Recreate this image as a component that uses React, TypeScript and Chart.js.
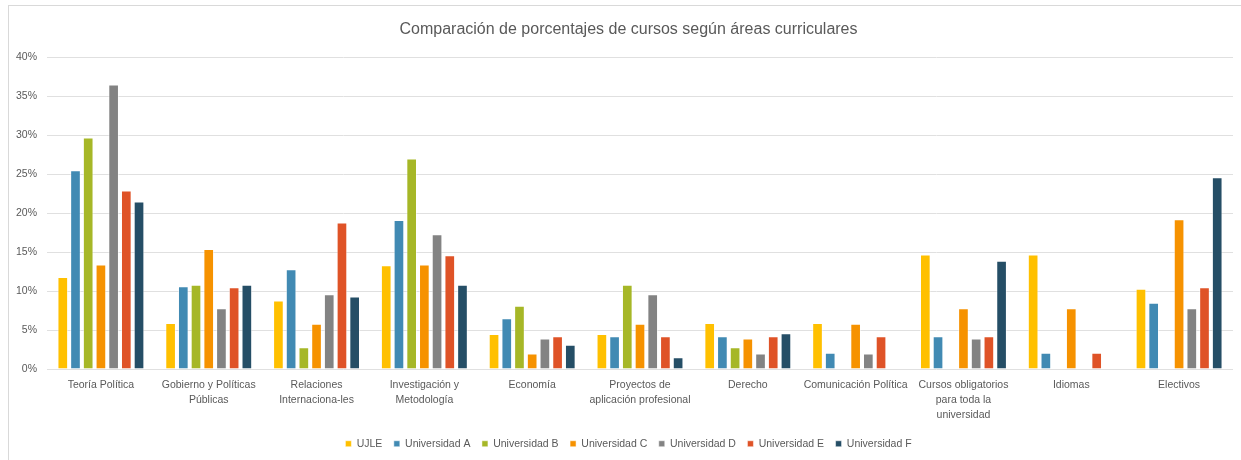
import React, { useEffect, useRef } from "react";
import { Chart, registerables } from "chart.js";

Chart.register(...registerables);

const categories: (string | string[])[] = [
  "Teoría Política",
  ["Gobierno y Políticas", "Públicas"],
  ["Relaciones", "Internaciona-les"],
  ["Investigación y", "Metodología"],
  "Economía",
  ["Proyectos de", "aplicación profesional"],
  "Derecho",
  "Comunicación Política",
  ["Cursos obligatorios", "para toda la", "universidad"],
  "Idiomas",
  "Electivos",
];

const seriesNames = [
  "UJLE",
  "Universidad A",
  "Universidad B",
  "Universidad C",
  "Universidad D",
  "Universidad E",
  "Universidad F",
];

const ujle = [11.8, 5.9, 8.8, 13.3, 4.5, 4.5, 5.9, 5.9, 14.7, 14.7, 10.3];
const uniA = [25.5, 10.6, 12.8, 19.1, 6.5, 4.2, 4.2, 2.1, 4.2, 2.1, 8.5];
const uniB = [29.7, 10.8, 2.8, 27.0, 8.1, 10.8, 2.8, null, null, null, null];
const uniC = [13.4, 15.4, 5.8, 13.4, 2.0, 5.8, 3.9, 5.8, 7.8, 7.8, 19.2];
const uniD = [36.5, 7.8, 9.6, 17.3, 3.9, 9.6, 2.0, 2.0, 3.9, null, 7.8];
const uniE = [22.9, 10.5, 18.8, 14.6, 4.2, 4.2, 4.2, 4.2, 4.2, 2.1, 10.5];
const uniF = [21.5, 10.8, 9.3, 10.8, 3.1, 1.5, 4.6, null, 13.9, null, 24.6];

const yTicks = [0, 5, 10, 15, 20, 25, 30, 35, 40];

const colors = ["#FFC000", "#418AB3", "#A6B727", "#F69200", "#838383", "#DF5327", "#254E66"];

const seriesValues = [ujle, uniA, uniB, uniC, uniD, uniE, uniF];

// Title and legend are centred over the whole chart frame (which starts at x=8), not the canvas.
const centerShift = {
  id: "centerShift",
  afterLayout(chart: any) {
    const d = 12;
    const blocks = [chart.legend, chart.titleBlock];
    blocks.forEach((b: any) => {
      if (b) {
        b.left += d;
        b.right += d;
      }
    });
  },
};

export default function App() {
  const ref = useRef<HTMLCanvasElement | null>(null);

  useEffect(() => {
    if (!ref.current) return;
    const font = "'Liberation Sans', Arial, sans-serif";
    const chart = new Chart(ref.current, {
      type: "bar",
      data: {
        labels: categories,
        datasets: seriesNames.map((name, i) => ({
          label: name,
          data: seriesValues[i],
          backgroundColor: colors[i],
          borderColor: "rgba(255,255,255,0.5)",
          borderWidth: 1,
          categoryPercentage: 0.825,
          barPercentage: 0.84,
        })),
      },
      options: {
        animation: false,
        responsive: false,
        devicePixelRatio: 1,
        layout: { padding: { left: 0, right: 8, top: 0, bottom: 1 } },
        plugins: {
          title: {
            display: true,
            text: "Comparación de porcentajes de cursos según áreas curriculares",
            color: "#595959",
            font: { family: font, size: 16, weight: "normal" },
            padding: { top: 20, bottom: 18 },
          },
          legend: {
            position: "bottom",
            labels: {
              color: "#595959",
              font: { family: font, size: 10.5 },
              boxWidth: 6,
              boxHeight: 6,
              padding: 11.5,
            },
          },
          tooltip: { enabled: false },
        },
        scales: {
          x: {
            grid: { display: false, drawTicks: false },
            border: { display: false },
            ticks: {
              color: "#595959",
              font: { family: font, size: 10.5, lineHeight: 1.45 },
              padding: 8,
              maxRotation: 0,
              autoSkip: false,
            },
            afterFit: (scale: any) => {
              scale.height = 58;
            },
          },
          y: {
            min: 0,
            max: 40,
            afterBuildTicks: (scale: any) => {
              scale.ticks = yTicks.map((v) => ({ value: v }));
            },
            grid: { color: "#E0E0E0", drawTicks: false },
            border: { display: false },
            ticks: {
              color: "#595959",
              font: { family: font, size: 10.5 },
              padding: 10,
              callback: (v: any) => v + "%",
            },
            afterFit: (scale: any) => {
              scale.width = 47;
            },
          },
        },
      },
      plugins: [centerShift],
    });
    return () => chart.destroy();
  }, []);

  return (
    <div>
      <div
        style={{
          position: "absolute",
          left: 8,
          top: 5,
          width: 1233,
          height: 455,
          borderLeft: "1px solid #D9D9D9",
          borderTop: "1px solid #D9D9D9",
          boxSizing: "border-box",
          pointerEvents: "none",
        }}
      />
      <canvas
        ref={ref}
        width={1241}
        height={460}
        style={{ position: "absolute", left: 0, top: 0, width: 1241, height: 460 }}
      />
    </div>
  );
}
